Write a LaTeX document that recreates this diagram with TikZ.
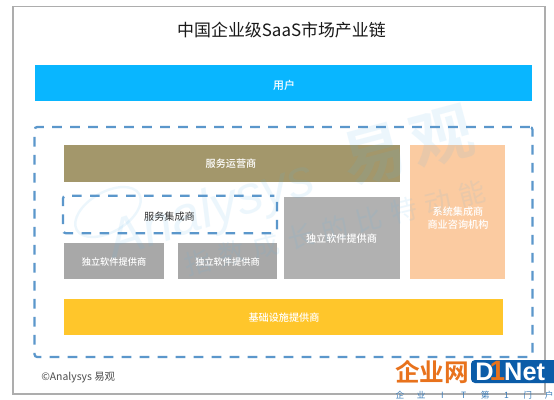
\documentclass[tikz,border=0pt]{standalone}
\usepackage{fontspec}
\setmainfont{Noto Sans CJK SC}
\newfontfamily\cjkbold{Noto Sans CJK SC Bold}
\newfontfamily\cjkmed{Noto Sans CJK SC Medium}
\newfontfamily\latinb{Liberation Sans}
\definecolor{userblue}{HTML}{09B6FF}
\definecolor{olive}{HTML}{A3976B}
\definecolor{greybig}{HTML}{B1B1B1}
\definecolor{greysmall}{HTML}{A8A8A8}
\definecolor{peach}{HTML}{FBCBA1}
\definecolor{amber}{HTML}{FFC62B}
\definecolor{dashblue}{HTML}{5B97CB}
\definecolor{wm}{HTML}{5AB4EA}
\definecolor{logoblue}{HTML}{0B5CA8}
\definecolor{logoorange}{HTML}{E8721C}
\newcommand{\wmc}[1]{\makebox[26.5pt]{#1}}
\newcommand{\lgc}[1]{\makebox[16pt]{#1}}
\tikzset{
  x=0.75pt,y=-0.75pt,
  fillbox/.style={inner sep=0pt,outer sep=0pt},
  lab/.style={inner sep=0pt,text=white,font=\fontsize{7.6pt}{9.4pt}\selectfont\cjkmed,align=center},
  labsmall/.style={lab,font=\fontsize{6.9pt}{8.6pt}\selectfont\cjkmed},
  dashbox/.style={draw=dashblue,line width=1.7pt,dash pattern=on 7.2pt off 6.3pt,rounded corners=2pt},
  wmtext/.style={text=wm,text opacity=.11,inner sep=0pt}
}
\begin{document}
\begin{tikzpicture}
\useasboundingbox (0,0) rectangle (554,400);
\fill[white] (0,0) rectangle (554,400);
\draw[draw=black!32,line width=1pt] (13,6.5) rectangle (545,394);
% boxes
\node[fillbox,fill=userblue,minimum width=373pt,minimum height=27pt] (user) at (283.5,83) {};
\node[fillbox,fill=olive,minimum width=252pt,minimum height=27.5pt] (ops) at (232,163.5) {};
\node[fillbox,fill=peach,minimum width=71pt,minimum height=100.5pt] (sys) at (457.5,212) {};
\node[fillbox,fill=greybig,minimum width=87pt,minimum height=62pt] (soft) at (342,238) {};
\node[fillbox,fill=greysmall,minimum width=75pt,minimum height=27pt] (softa) at (114,261) {};
\node[fillbox,fill=greysmall,minimum width=74.5pt,minimum height=27pt] (softb) at (227.5,261) {};
\node[fillbox,fill=amber,minimum width=329pt,minimum height=27pt] (infra) at (283.5,317) {};
% watermark
\draw[draw=wm,draw opacity=.11,line width=1.8pt] (108,212) ellipse [x radius=27pt,y radius=15pt,rotate=30];
\node[wmtext,rotate=18,font=\fontsize{40pt}{40pt}\selectfont\latinb\itshape] (wma) at (212,212) {Analysys};
\node[wmtext,rotate=15,font=\fontsize{47pt}{47pt}\selectfont\cjkbold] (wmb) at (408,146) {易\hspace{.12em}观};
\node[wmtext,rotate=14,font=\fontsize{20pt}{20pt}\selectfont] (wmc) at (335,228) {\wmc{指}\wmc{数}\wmc{成}\wmc{长}\wmc{的}\wmc{比}\wmc{特}\wmc{动}\wmc{能}};
% labels
\node[lab,font=\fontsize{8.2pt}{10pt}\selectfont\cjkmed] (userl) at (284,85) {用户};
\node[lab] (opsl) at (231,164) {服务运营商};
\node[lab] (sysl) at (458,218) {系统集成商\\商业咨询机构};
\node[lab] (softl) at (341.5,239) {独立软件提供商};
\node[labsmall] (softal) at (114,262) {独立软件提供商};
\node[labsmall] (softbl) at (227.5,262) {独立软件提供商};
\node[lab] (infral) at (284,318) {基础设施提供商};
% dashed
\node[dashbox,inner sep=0pt,minimum width=160.5pt,minimum height=28pt,dash phase=4pt] (integ) at (170,214.5) {};
\node[inner sep=0pt,text=black!80,font=\fontsize{7.6pt}{9pt}\selectfont] (integl) at (169.5,216.5) {服务集成商};
\node[dashbox,inner sep=0pt,minimum width=373.5pt,minimum height=172.5pt] (chain) at (283.5,242) {};
% titles
\node[inner sep=0pt,font=\fontsize{12.7pt}{14pt}\selectfont,text=black!90] (title) at (281.5,30.5) {中国企业级SaaS市场产业链};
\node[inner sep=0pt,anchor=west,font=\fontsize{7.8pt}{9pt}\selectfont,text=black!70] (copy) at (41,378) {©Analysys 易观};
% logo
\node[inner sep=0pt,anchor=west,text=logoorange,font=\fontsize{18.5pt}{18.5pt}\selectfont\cjkbold] (logoa) at (395,372) {企业网};
\fill[logoblue,rounded corners=3pt] (471,360) rectangle (570,383);
\fill[white] (554,355) rectangle (575,390);
\node[inner sep=0pt,anchor=west,text=white,font=\fontsize{19pt}{19pt}\selectfont\latinb\bfseries] (logob) at (475,372) {D\hspace{8pt}Net};
\node[inner sep=0pt,text=logoorange,font=\fontsize{21pt}{21pt}\selectfont\latinb\bfseries] (logoo) at (497.5,370.5) {1};
\node[inner sep=0pt,text=logoblue!80,font=\fontsize{6.5pt}{8pt}\selectfont,anchor=center] (logoc) at (474.5,395) {\lgc{企}\lgc{业}\lgc{I}\lgc{T}\lgc{第}\lgc{1}\lgc{门}\lgc{户}};
\end{tikzpicture}
\end{document}
